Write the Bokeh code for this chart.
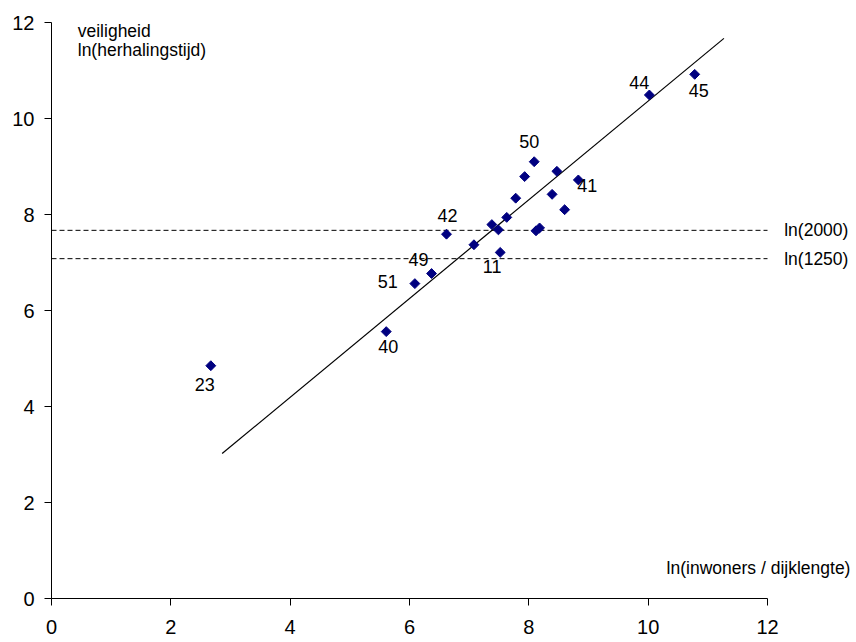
import numpy as np
from bokeh.plotting import figure
from bokeh.models import ColumnDataSource, Label, Range1d, FixedTicker
from bokeh.core.properties import value
from bokeh.embed import file_html
from bokeh.resources import INLINE

# ---- data ----
ln_inwoners = [8.09, 7.93, 8.47, 8.83, 8.39, 7.78, 8.60, 7.63, 7.38, 7.49,
               8.12, 8.18, 6.62, 7.08, 7.52, 6.37, 6.09, 5.61, 2.67, 10.02, 10.78]
ln_herhaling = [9.10, 8.79, 8.90, 8.72, 8.42, 8.34, 8.10, 7.94, 7.79, 7.68,
                7.66, 7.72, 7.59, 7.37, 7.21, 6.77, 6.56, 5.56, 4.85, 10.49, 10.92]
point_ids = ["50", "", "", "41", "", "", "", "", "", "",
             "", "", "42", "", "11", "49", "51", "40", "23", "44", "45"]

fit_x = [2.86, 11.27]
fit_y = [3.02, 11.67]

ln2000 = 7.67
ln1250 = 7.08
ref_labels = ["ln(2000)", "ln(1250)"]

x_ticks = [0, 2, 4, 6, 8, 10, 12]
y_ticks = [0, 2, 4, 6, 8, 10, 12]
x_axis_end = 12

# label offsets (pixels) for the numbered points -- styling only
label_offsets = {"50": (-5, -20), "41": (9, 6), "42": (1, -19), "11": (-8, 14),
                 "49": (-13, -14), "51": (-27, -2), "40": (2, 15), "23": (-6, 19),
                 "44": (-10, -12), "45": (4, 16)}

FONT = "Liberation Sans"

# frame extends to the right edge so that the right-hand texts are not clipped;
# the axis itself stops at 12
W, H = 856, 642
LEFT, TOP, BOTTOM = 51, 22, 44
px_per_unit = (767 - LEFT) / 12.0
x_max = (W - LEFT) / px_per_unit

p = figure(width=W, height=H, output_backend="svg", toolbar_location=None,
           x_range=Range1d(0, x_max), y_range=Range1d(0, 12),
           min_border_left=LEFT, min_border_right=0, min_border_top=TOP,
           min_border_bottom=BOTTOM)
p.outline_line_color = None
p.xgrid.visible = False
p.ygrid.visible = False
p.background_fill_color = "white"

for ax in (p.xaxis[0], p.yaxis[0]):
    ax.major_label_text_font = FONT
    ax.major_label_text_font_size = "20px"
    ax.major_label_text_color = "black"
    ax.axis_line_color = "black"
    ax.major_tick_line_color = "black"
    ax.minor_tick_line_color = None
    ax.major_tick_in = 0
    ax.major_tick_out = 7
p.xaxis.ticker = FixedTicker(ticks=x_ticks)
p.yaxis.ticker = FixedTicker(ticks=y_ticks)
p.xaxis.bounds = (0, x_axis_end)
p.xaxis.major_label_standoff = 14
p.yaxis.major_label_standoff = 10

# reference lines
p.line(x=[0, x_axis_end], y=[ln2000, ln2000], line_color="black", line_width=1, line_dash="5 3")
p.line(x=[0, x_axis_end], y=[ln1250, ln1250], line_color="black", line_width=1, line_dash="5 3")

# fit line
p.line(x=fit_x, y=fit_y, line_color="black", line_width=1.2)

# points
src = ColumnDataSource(dict(x=ln_inwoners, y=ln_herhaling))
p.scatter(x="x", y="y", source=src, marker="square", angle=np.pi / 4, size=7,
          fill_color="#000080", line_color="#000080")

# point labels
lx, ly, lt, dx, dy = [], [], [], [], []
for xv, yv, t in zip(ln_inwoners, ln_herhaling, point_ids):
    if t:
        lx.append(xv); ly.append(yv); lt.append(t)
        dx.append(label_offsets[t][0]); dy.append(label_offsets[t][1])
lsrc = ColumnDataSource(dict(x=lx, y=ly, text=lt, dx=dx, dy=dy))
p.text(x="x", y="y", text="text", source=lsrc, x_offset="dx", y_offset="dy",
       text_font=value(FONT), text_font_size="18px", text_align="center",
       text_baseline="middle", text_color="black")

# annotations
common = dict(text_font=FONT, text_color="black", text_baseline="middle", text_font_size="17.5px")
p.add_layout(Label(x=0.44, y=11.82, text="veiligheid", **common))
p.add_layout(Label(x=0.44, y=11.43, text="ln(herhalingstijd)", **common))
p.add_layout(Label(x=13.39, y=0.63, text="ln(inwoners / dijklengte)", text_align="right", **common))
p.add_layout(Label(x=12.28, y=ln2000, text=ref_labels[0], **common))
p.add_layout(Label(x=12.28, y=ln1250, text=ref_labels[1], **common))

open("out.html", "w").write(file_html(p, INLINE))
